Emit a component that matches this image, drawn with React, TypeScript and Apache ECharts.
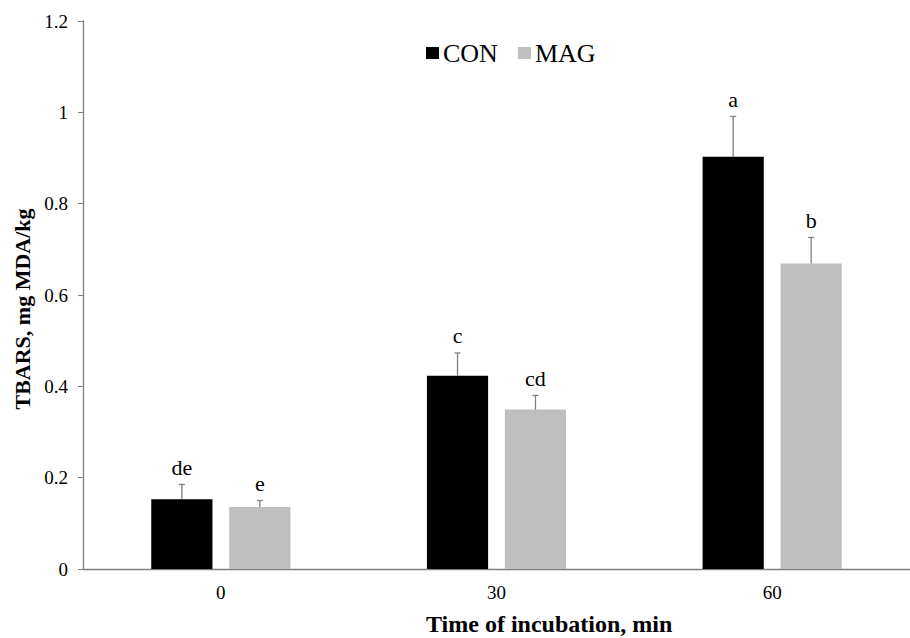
import React, { useEffect, useRef } from "react";
import * as echarts from "echarts";

const categories = ["0", "30", "60"];
const conMean = [0.153, 0.423, 0.903];
const conErr = [0.032, 0.05, 0.088];
const magMean = [0.136, 0.349, 0.669];
const magErr = [0.014, 0.031, 0.057];
const conLetters = ["de", "c", "a"];
const magLetters = ["e", "cd", "b"];

const FONT = "'Liberation Serif', 'Times New Roman', serif";
const BAR_W = 0.222;
const BAR_GAP = 0.274;

export default function App() {
  const ref = useRef<HTMLDivElement>(null);
  useEffect(() => {
    if (!ref.current) return;
    const chart = echarts.init(ref.current, undefined, { renderer: "svg" });

    const errData: any[] = [];
    categories.forEach((_, i) => {
      errData.push([i, conMean[i], conMean[i] + conErr[i], -1, conLetters[i]]);
      errData.push([i, magMean[i], magMean[i] + magErr[i], 1, magLetters[i]]);
    });

    const renderItem = (params: any, api: any) => {
      const cat = api.value(0);
      const mean = api.value(1);
      const top = api.value(2);
      const side = api.value(3);
      const idx = params.dataIndex;
      const letter = errData[idx][4];
      const band = api.size([1, 0])[0];
      const w = band * BAR_W;
      const g = w * BAR_GAP;
      const off = side * (w + g) / 2;
      const p0 = api.coord([cat, mean]);
      const p1 = api.coord([cat, top]);
      const x = p0[0] + off;
      const lineStyle = { stroke: "#7f7f7f", lineWidth: 1.3 };
      return {
        type: "group",
        children: [
          { type: "line", shape: { x1: x, y1: p0[1], x2: x, y2: p1[1] }, style: lineStyle },
          { type: "line", shape: { x1: x - 3, y1: p1[1], x2: x + 3, y2: p1[1] }, style: lineStyle },
          {
            type: "text",
            x: x,
            y: p1[1] - 6,
            style: {
              text: letter,
              fill: "#000",
              font: `22px ${FONT}`,
              textAlign: "center",
              textVerticalAlign: "bottom",
            },
          },
        ],
      };
    };

    chart.setOption({
      animation: false,
      backgroundColor: "#fff",
      grid: { left: 83, right: -10, top: 21, bottom: 69, containLabel: false },
      legend: {
        data: [
          { name: "CON", icon: "rect" },
          { name: "MAG", icon: "rect" },
        ],
        left: 421,
        top: 35,
        itemWidth: 13,
        itemHeight: 12,
        itemGap: 20,
        textStyle: { fontFamily: FONT, fontSize: 26, color: "#000", padding: [0, 0, 0, -1] },
      },
      xAxis: {
        type: "category",
        data: categories,
        axisLine: { lineStyle: { color: "#7f7f7f", width: 1.3 } },
        axisTick: { inside: true, length: 6, lineStyle: { color: "#7f7f7f" } },
        axisLabel: { color: "#000", fontFamily: FONT, fontSize: 19, margin: 14 },
        splitLine: { show: false },
      },
      yAxis: {
        type: "value",
        min: 0,
        max: 1.2,
        interval: 0.2,
        axisLine: { show: true, lineStyle: { color: "#7f7f7f", width: 1.3 } },
        axisTick: { show: true, length: 5, lineStyle: { color: "#7f7f7f" } },
        axisLabel: { color: "#000", fontFamily: FONT, fontSize: 19, margin: 15 },
        splitLine: { show: false },
      },
      graphic: [
        {
          type: "text",
          left: 426,
          top: 612,
          style: {
            text: "Time of incubation, min",
            font: `bold 24px ${FONT}`,
            fill: "#000",
          },
        },
        {
          type: "text",
          x: 22,
          y: 309,
          rotation: Math.PI / 2,
          style: {
            text: "TBARS, mg MDA/kg",
            font: `bold 22px ${FONT}`,
            fill: "#000",
            textAlign: "center",
            textVerticalAlign: "middle",
          },
        },
      ],
      series: [
        {
          name: "CON",
          type: "bar",
          data: conMean,
          barWidth: `${BAR_W * 100}%`,
          barGap: `${BAR_GAP * 100}%`,
          itemStyle: { color: "#000000" },
        },
        {
          name: "MAG",
          type: "bar",
          data: magMean,
          barWidth: `${BAR_W * 100}%`,
          barGap: `${BAR_GAP * 100}%`,
          itemStyle: { color: "#bfbfbf" },
        },
        {
          type: "custom",
          renderItem,
          data: errData.map((d) => [d[0], d[1], d[2], d[3]]),
          encode: { x: 0, y: [1, 2] },
          z: 5,
        },
      ],
    });
    return () => chart.dispose();
  }, []);
  return (
    <div
      ref={ref}
      style={{ position: "absolute", left: 0, top: 0, width: 910, height: 638 }}
    />
  );
}
